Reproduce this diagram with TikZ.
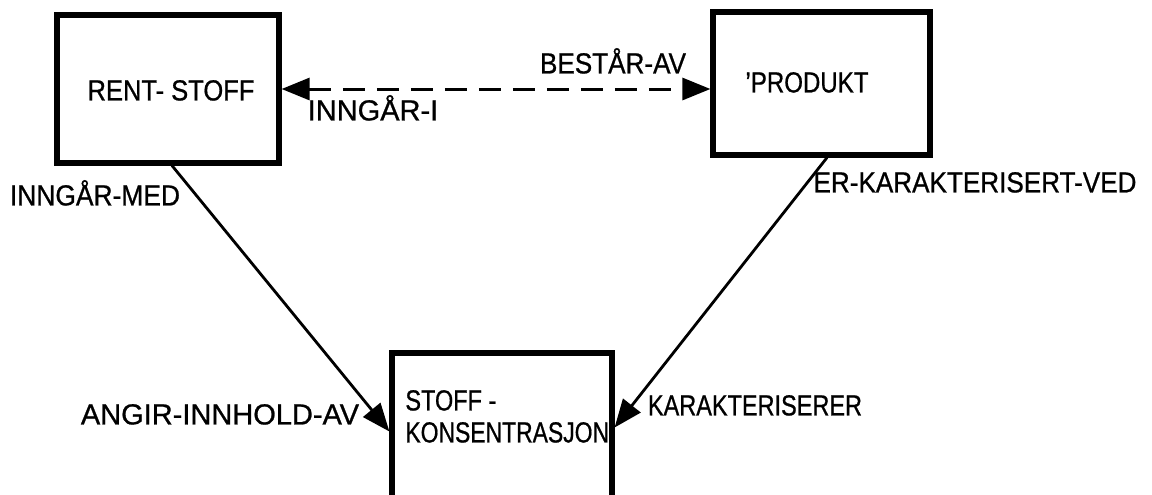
\documentclass[tikz,border=0pt]{standalone}
\usepackage{fontspec}
\usepackage{graphicx}
\setmainfont{Liberation Sans}[FakeBold=0.8]
\usetikzlibrary{arrows.meta,calc}
% horizontally squeezed lettering
\newcommand{\sq}[2]{\scalebox{#1}[1]{#2}}
\begin{document}
\begin{tikzpicture}[x=0.5pt,y=-0.5pt,
  entity/.style={draw, line width=2.6pt, inner sep=0pt},
  lbl/.style={inner sep=0pt, text height=10.4pt, text depth=0pt,
    font=\fontsize{14.5}{16}\selectfont},
  conn/.style={line width=1.4pt, -{Triangle[length=14pt,width=11pt]}},
  dashconn/.style={line width=1.5pt, dash pattern=on 11pt off 6pt,
    {Triangle[length=14pt,width=11pt]}-{Triangle[length=14pt,width=11pt]}}]
  \clip (0,0) rectangle (1152,494);
  \fill[white] (0,0) rectangle (1152,494);

  % entity boxes
  \node[entity, minimum width=111pt, minimum height=74pt] (rs) at (168,89) {};
  \node[entity, minimum width=108.5pt, minimum height=71.5pt] (pr) at (821.5,83.5) {};
  \node[entity, minimum width=110pt, minimum height=78.5pt] (sk) at (502,431.5) {};

  % box titles
  \node[lbl] (rst) at (171,90) {\sq{0.88}{RENT- STOFF}};
  \node[lbl] (prt) at (807,82) {\sq{0.83}{'PRODUKT}};
  \node[lbl, anchor=west] (skt1) at (405,400) {\sq{0.81}{STOFF -}};
  \node[lbl, anchor=west] (skt2) at (405,432) {\sq{0.79}{KONSENTRASJON}};

  % relationships
  \draw[dashconn] (rs.east) -- (rs.east -| pr.west);
  \draw[conn] ([xshift=2pt]rs.south) -- (sk.west);
  \draw[conn] ([xshift=2.75pt]pr.south) -- ([yshift=2pt]sk.east);

  % relationship names
  \node[lbl] (l1) at (613,63) {\sq{0.9}{BESTÅR-AV}};
  \node[lbl] (l2) at (373,110) {\sq{1.0}{INNGÅR-I}};
  \node[lbl] (l3) at (95,195) {\sq{0.91}{INNGÅR-MED}};
  \node[lbl] (l4) at (975,182) {\sq{0.9}{ER-KARAKTERISERT-VED}};
  \node[lbl] (l5) at (220,414) {\sq{1.0}{ANGIR-INNHOLD-AV}};
  \node[lbl] (l6) at (755,405) {\sq{0.81}{KARAKTERISERER}};
\end{tikzpicture}
\end{document}
